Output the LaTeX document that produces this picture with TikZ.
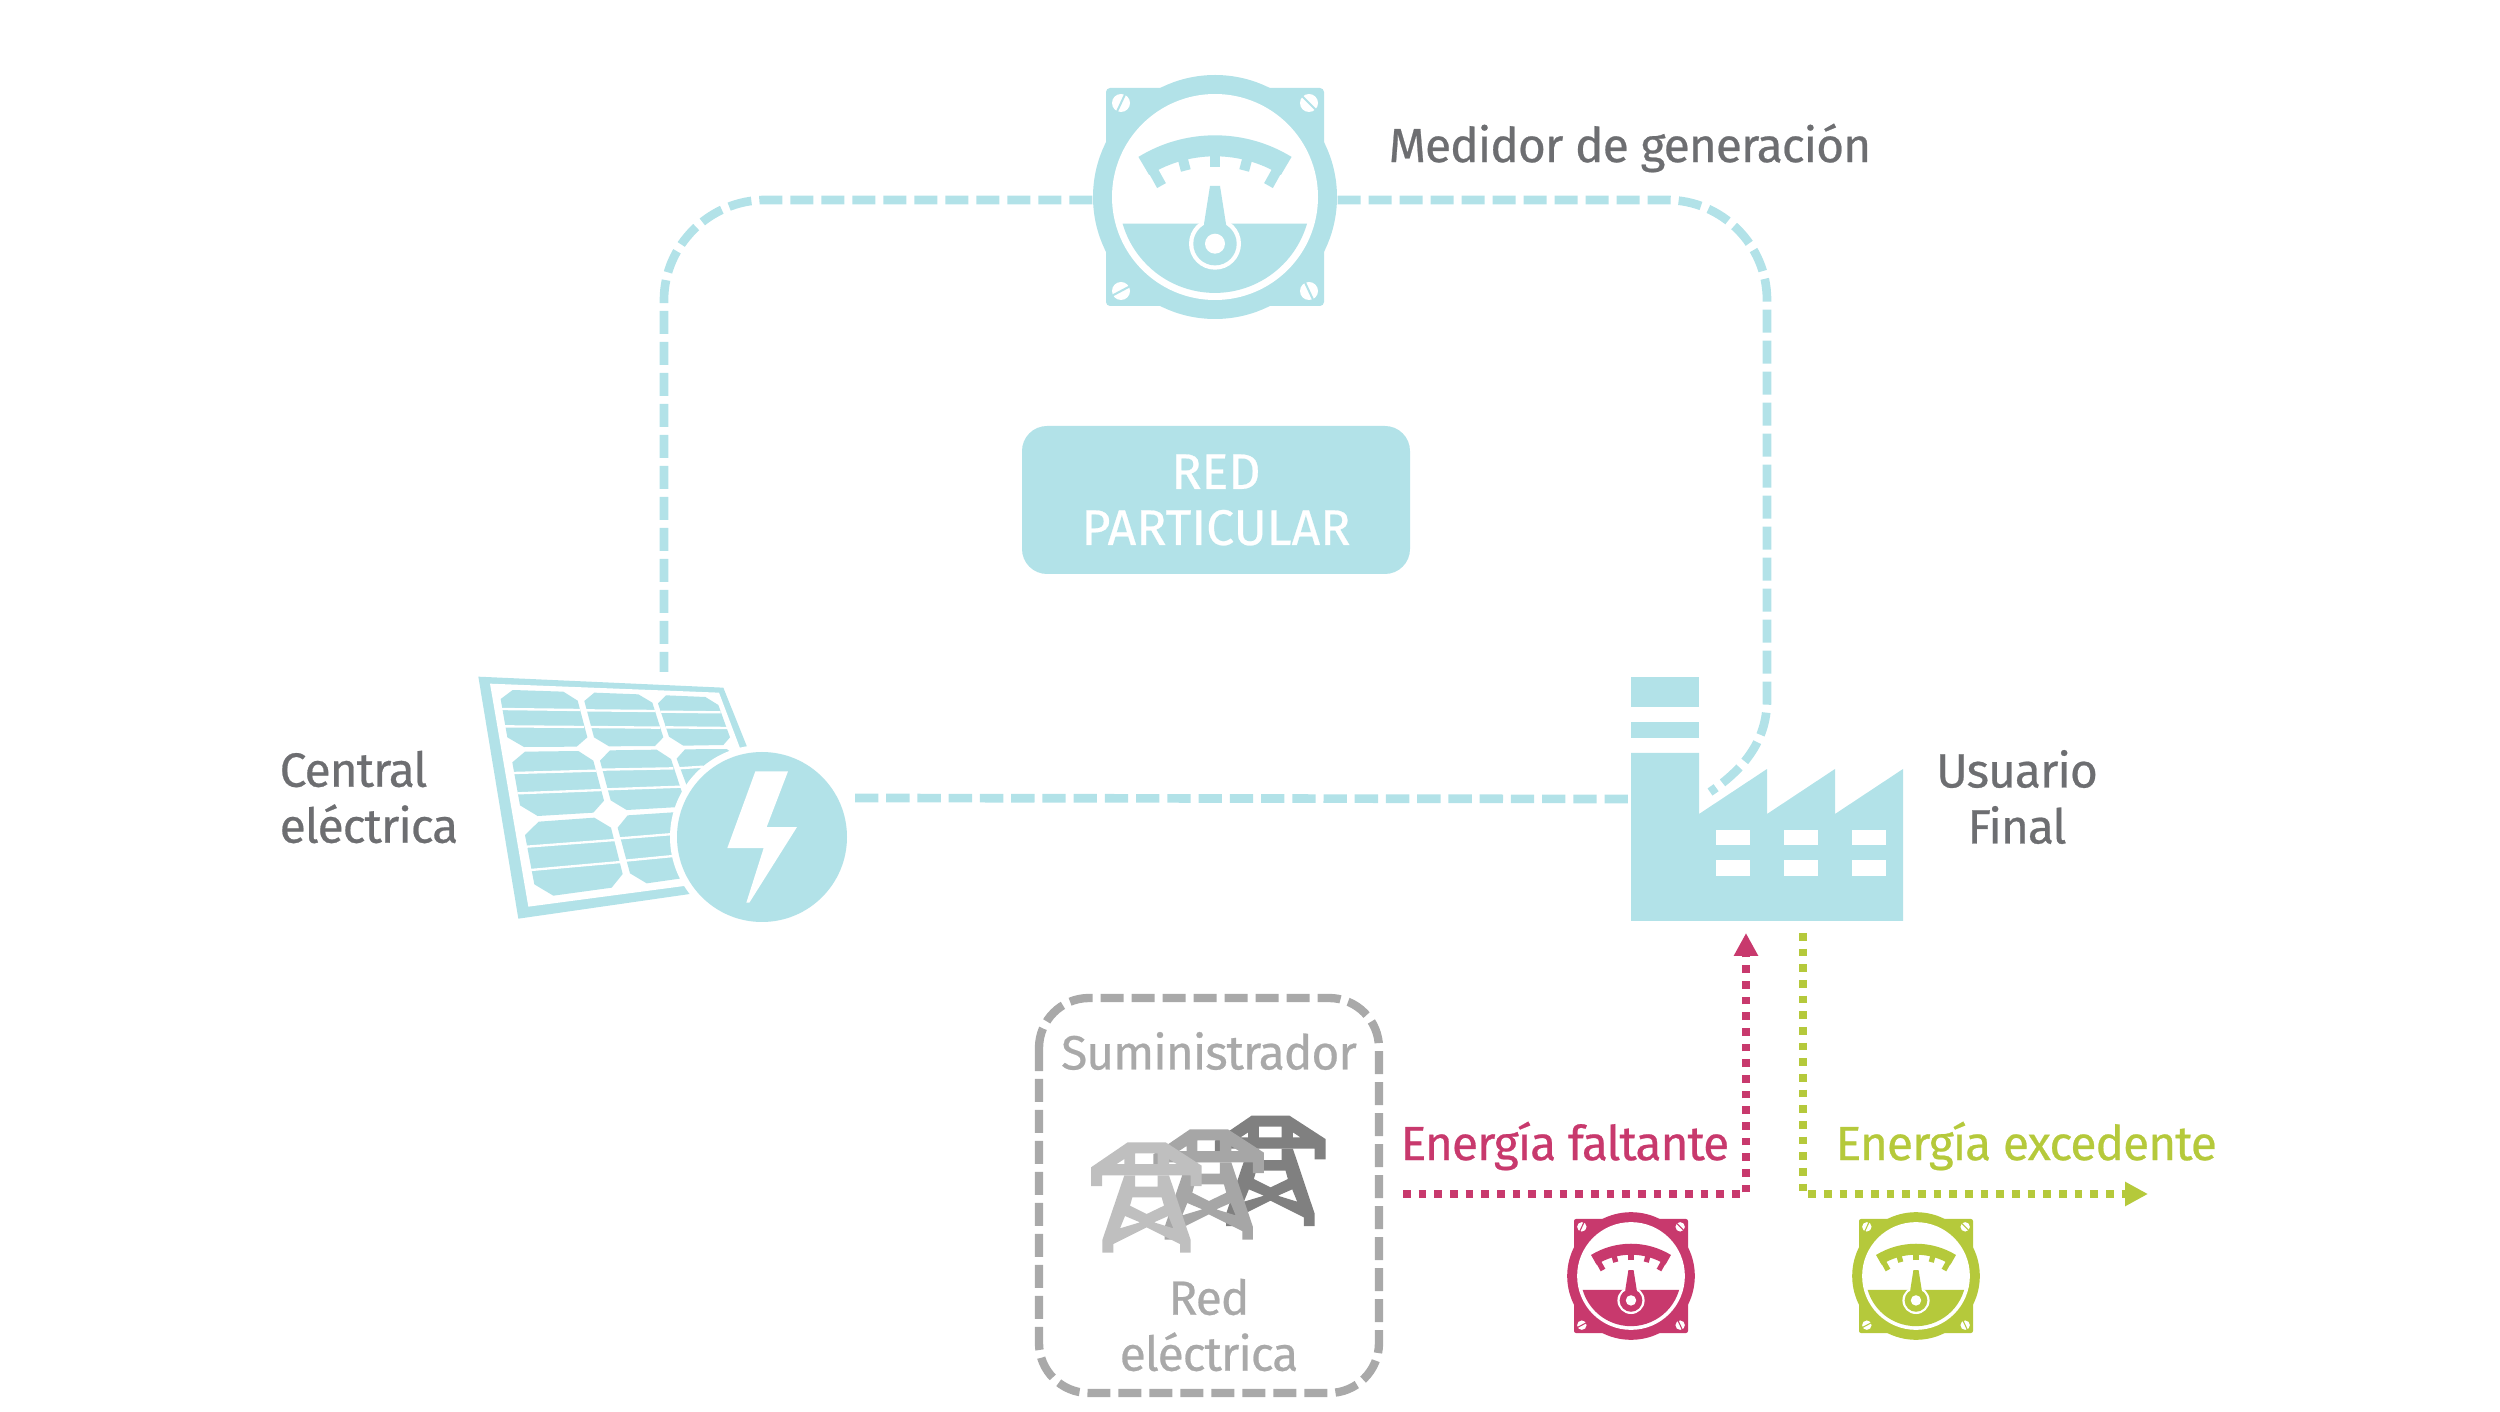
\documentclass[tikz,border=0pt]{standalone}
\usepackage{fontspec}
\setmainfont[LetterSpace=-2.2,FakeBold=0.5]{Fira Sans}
\newfontfamily\capfont[FakeBold=0.5]{Fira Sans}
\usetikzlibrary{arrows.meta}

\definecolor{netblue}{HTML}{B2E2E8}
\definecolor{faltpink}{HTML}{C8396D}
\definecolor{excgreen}{HTML}{B5C93B}
\definecolor{txtgray}{HTML}{6D6E71}
\definecolor{boxgray}{HTML}{A9A9A9}

\tikzset{
	netline/.style={draw=netblue,line width=2.6pt,dash pattern=on 6.9pt off 2.4pt},
	boxline/.style={draw=boxgray,line width=2.5pt,dash pattern=on 6.9pt off 2.4pt},
	dotline/.style={line width=2.4pt,dash pattern=on 2.3pt off 2.4pt,-{Triangle[length=6.9pt,width=6.9pt]}},
	lbl/.style={font=\fontsize{14.4}{16.8}\selectfont,text=txtgray,inner sep=0pt},
	hole/.style={circle,inner sep=0pt}
}

% pos, colour, scale
\newcommand{\meterfig}[3]{
	\begin{scope}[shift={#1},scale=#3]
		\fill[#2,rounded corners=1.2pt*#3] (-109,-109) rectangle (109,109);
		\fill[#2] (0,0) circle[radius=122];
		\fill[white] (0,0) circle[radius=103];
		\fill[#2] (92,26.7) arc[start angle=16.2,end angle=163.8,radius=96] -- cycle;
		\foreach \sx/\sy/\sa in {-94/-94/-65,94/-94/45,-94/94/-28,94/94/65}{
			\fill[white] (\sx,\sy) circle[radius=9];
			\draw[#2,line width=#3*0.6pt] (\sx,\sy) ++(\sa:10) -- ++(\sa+180:20);
		}
		\begin{scope}[shift={(0,84.7)}]
			\draw[#2,line width=#3*6.3pt] (238.4:135.9) arc[start angle=238.4,end angle=301.6,radius=135.9];
			\foreach \ta/\tr in {240.9/110,255.3/115,270/115,284.7/115,299.1/110}
				\draw[#2,line width=#3*3pt] (\ta:\tr) -- (\ta:130);
		\end{scope}
		\fill[white] (0,46.7) circle[radius=26];
		\fill[#2] (0,46.7) circle[radius=21.7];
		\fill[#2] (-5,-11) -- (5,-11) -- (11,27) -- (11,40) -- (-11,40) -- (-11,27) -- cycle;
		\fill[white] (0,46.7) circle[radius=10];
	\end{scope}
}

\newcommand{\towerfig}[2]{
	\begin{scope}[shift={#1},x=0.1pt,y=-0.1pt]
		\fill[#2,even odd rule] (323,157) -- (437,157) -- (545,227) -- (545,288) -- (512,288) -- (512,256) -- (246,256) -- (246,288) -- (213,288) -- (213,232) -- cycle
			(345,190) rectangle (413,222)
			(290,222) -- (313,207) -- (313,222) -- cycle
			(447,207) -- (470,222) -- (447,222) -- cycle;
		\fill[#2,even odd rule] (313,256) -- (447,256) -- (512,450) -- (512,488) -- (480,488) -- (480,462) -- (380,412) -- (280,462) -- (280,488) -- (247,488) -- (247,450) -- cycle
			(345,256) rectangle (413,290)
			(337,322) -- (425,322) -- (432,347) -- (380,372) -- (330,347) -- cycle
			(315,378) -- (360,397) -- (300,415) -- cycle
			(445,378) -- (460,415) -- (402,397) -- cycle;
	\end{scope}
}

\begin{document}
\begin{tikzpicture}[x=0.3pt,y=-0.3pt]
	\useasboundingbox (0,0) rectangle (2500,1412);

	% connection points
	\node[hole,minimum size=73.2pt] (mtrgen) at (1215,200) {};
	\node[inner sep=0pt,minimum width=81.6pt,minimum height=73.2pt] (fct) at (1767,799) {};
	\coordinate (pvtop) at (664,672);
	\coordinate (pvout) at (855,798);
	\coordinate (fctroof) at (1710,792);
	\coordinate (fctin) at (1746,933);
	\coordinate (fctout) at (1803,933);
	\coordinate (faltstart) at (1403,1194);
	\coordinate (excend) at (2148,1194);

	% network
	\draw[netline] (mtrgen.west) -- (765,200) .. controls (710,200) and (664,245) .. (664,300) -- (pvtop);
	\draw[netline] (mtrgen.east) -- (1667,200) .. controls (1722,200) and (1767,245) .. (1767,300) -- (1767,700) .. controls (1767,735) and (1750,765) .. (fctroof);
	\draw[netline,dash pattern=on 7pt off 2.37pt] (pvout) -- (fct.west);

	% solar panel
	\begin{scope}[shift={(460,650)},x=0.1pt,y=-0.1pt]
		\fill[netblue] (55,80) -- (790,113) -- (905,400) -- (800,716) -- (175,806) -- cycle;
		\fill[white] (90,101) -- (777,128) -- (880,400) -- (800,691) -- (205,770) -- cycle;
		\fill[netblue] (122,147) -- (158,120) -- (310,125) -- (353,152) -- (382,262) -- (350,290) -- (192,291) -- (142,262) -- cycle;
		\fill[netblue] (373,153) -- (403,128) -- (535,133) -- (577,158) -- (610,262) -- (585,288) -- (447,289) -- (402,262) -- cycle;
		\fill[netblue] (594,160) -- (618,136) -- (736,141) -- (775,165) -- (810,262) -- (790,285) -- (670,287) -- (627,260) -- cycle;
		\fill[netblue] (157,337) -- (195,305) -- (355,303) -- (400,332) -- (432,452) -- (400,488) -- (233,498) -- (180,466) -- cycle;
		\fill[netblue] (420,332) -- (450,301) -- (590,299) -- (633,327) -- (680,470) -- (640,472) -- (500,480) -- (452,451) -- cycle;
		\fill[netblue] (650,326) -- (675,298) -- (800,297) -- (830,320) -- (860,440) -- (700,460) -- cycle;
		\fill[netblue] (195,555) -- (236,515) -- (403,503) -- (453,533) -- (488,672) -- (455,713) -- (280,737) -- (223,703) -- cycle;
		\fill[netblue] (473,533) -- (503,496) -- (640,487) -- (700,487) -- (700,680) -- (560,700) -- (510,670) -- cycle;
		\foreach \ax/\ay/\bx/\by in {125/177/360/180,134/229/372/231,378/181/585/183,392/231/600/233,602/185/782/187,617/232/805/234,
			160/369/408/362,172/430/425/420,425/359/640/355,440/418/665/410,655/355/730/350,
			200/590/465/570,212/660/482/636,480/565/640/552,495/632/640/618}
			\draw[white,line width=0.7pt] (\ax,\ay) -- (\bx,\by);
	\end{scope}
	\fill[white] (762,837) circle[radius=92];
	\node[hole,fill=netblue,minimum size=51pt] (pv) at (762,837) {};
	\begin{scope}[shift={(460,650)},x=0.1pt,y=-0.1pt]
		\fill[white] (886,364) -- (984,364) -- (920,531) -- (1011,531) -- (868,758) -- (859,758) -- (911,594) -- (802,594) -- cycle;
	\end{scope}

	% factory
	\fill[netblue] (1631,677) rectangle (1699,707);
	\fill[netblue] (1631,722) rectangle (1699,738);
	\fill[netblue] (1631,753) -- (1699,753) -- (1699,814) -- (1767,769) -- (1767,814) -- (1835,769) -- (1835,814) -- (1903,769) -- (1903,921) -- (1631,921) -- cycle;
	\foreach \wx in {1716,1784,1852}{
		\fill[white] (\wx,830) rectangle ++(34,15);
		\fill[white] (\wx,860) rectangle ++(34,16);
	}

	% meters
	\meterfig{(1215,197)}{netblue}{1}
	\meterfig{(1631,1276)}{faltpink}{0.523}
	\meterfig{(1916,1276)}{excgreen}{0.523}

	\node[fill=netblue,text=white,rounded corners=7.5pt,minimum width=116.4pt,minimum height=44.4pt,align=center,inner sep=0pt,font=\capfont\fontsize{15}{16.8}\selectfont] (red) at (1216,500) {RED\\PARTICULAR};

	\node[lbl,anchor=west] (lblgen) at (1388,148) {Medidor de generación};
	\node[lbl,anchor=west,align=left] (lblcen) at (279,797) {Central\\eléctrica};
	\node[lbl,align=center] (lblusr) at (2017,797) {Usuario\\Final};

	% supplier
	\draw[boxline,rounded corners=15pt] (1039,998) rectangle (1379,1393);
	\node[lbl,text=boxgray] (lblsum) at (1209,1051) {Suministrador};
	\node[lbl,text=boxgray,align=center] (lblred) at (1209,1325) {Red\\eléctrica};
	\towerfig{(1020+372*0.333,1090-80*0.333)}{black!50}
	\towerfig{(1020+187*0.333,1090-39*0.333)}{black!35}
	\towerfig{(1020,1090)}{black!25}

	% energy arrows
	\draw[dotline,draw=faltpink] (faltstart) -- (1746,1194) -- (fctin);
	\draw[dotline,draw=excgreen] (fctout) -- (1803,1194) -- (excend);
	\node[lbl,text=faltpink,anchor=west] (lblfalt) at (1400,1146) {Energía faltante};
	\node[lbl,text=excgreen,anchor=west] (lblexc) at (1835,1146) {Energía excedente};
\end{tikzpicture}
\end{document}
